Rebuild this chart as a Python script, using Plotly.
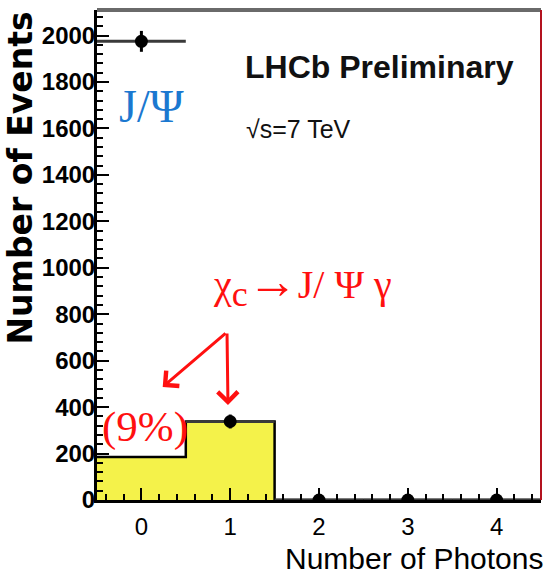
import plotly.graph_objects as go

# Photon multiplicity bins
n_photons = [0, 1, 2, 3, 4]

# Data: events per photon multiplicity (points with errors)
data_events = [1975, 338, 0, 0, 0]
data_err_y = [45, 30, 0, 0, 0]
bin_half_width = [0.5, 0.5, 0.5, 0.5, 0.5]

# chi_c -> J/psi gamma contribution (filled histogram)
chic_events = [185, 338, 0, 0, 0]

y_tick_vals = [0, 200, 400, 600, 800, 1000, 1200, 1400, 1600, 1800, 2000]
y_tick_text = [str(v) for v in y_tick_vals]
x_tick_vals = [0, 1, 2, 3, 4]
x_tick_text = [str(v) for v in x_tick_vals]

# histogram edges built from bin centres
edges = [c - 0.5 for c in n_photons] + [n_photons[-1] + 0.5]
step_y = chic_events + [chic_events[-1]]

fig = go.Figure()

fig.add_trace(go.Scatter(
    x=edges, y=step_y, mode="lines", line_shape="hv",
    line=dict(color="black", width=2.5),
    fill="tozeroy", fillcolor="#f4f24a",
    hoverinfo="skip", showlegend=False,
))

fig.add_trace(go.Scatter(
    x=n_photons, y=data_events, mode="markers",
    marker=dict(color="black", size=13),
    error_x=dict(type="data", array=bin_half_width, color="#3a3a3a",
                 thickness=3, width=0),
    error_y=dict(type="data", array=data_err_y, color="black",
                 thickness=3, width=0),
    showlegend=False,
))

tick_font_y = dict(family="Liberation Sans, Arial, sans-serif", size=24,
                   color="black", weight="bold")
tick_font_x = dict(family="Liberation Sans, Arial, sans-serif", size=24,
                   color="black")

fig.update_xaxes(
    range=[-0.5, 4.5], tickvals=x_tick_vals, ticktext=x_tick_text,
    ticks="inside", ticklen=12, tickwidth=2, tickcolor="black",
    minor=dict(dtick=0.2, tick0=0, ticks="inside", ticklen=6,
               tickwidth=2, tickcolor="black"),
    showline=True, linecolor="black", linewidth=3,
    showgrid=False, zeroline=False, tickfont=tick_font_x,
    ticklabelstandoff=3,
)
fig.update_yaxes(
    range=[0, 2110], tickvals=y_tick_vals, ticktext=y_tick_text,
    ticks="inside", ticklen=12, tickwidth=2, tickcolor="black",
    minor=dict(dtick=40, tick0=0, ticks="inside", ticklen=6,
               tickwidth=2, tickcolor="black"),
    showline=True, linecolor="black", linewidth=3,
    showgrid=False, zeroline=False, tickfont=tick_font_y,
    ticklabelstandoff=-6,
)

# frame: grey top edge, red right edge
fig.add_shape(type="line", xref="paper", yref="paper", x0=0, x1=1, y0=1, y1=1,
              line=dict(color="#6a6a6a", width=4))
fig.add_shape(type="line", xref="paper", yref="paper", x0=1, x1=1, y0=0, y1=1,
              line=dict(color="#b3121f", width=2))

sans = "Liberation Sans, Arial, sans-serif"
serif = "Liberation Serif, Times New Roman, serif"
red = "#ff1010"

annotations = [
    dict(text="Number of Events", xref="paper", yref="paper", x=0, y=1,
         xshift=-77, xanchor="center", yanchor="top", textangle=-90,
         showarrow=False,
         font=dict(family="DejaVu Sans, sans-serif", size=33, color="black",
                   weight="bold")),
    dict(text="Number of Photons", xref="paper", yref="paper", x=1, y=0,
         xshift=4, yshift=-58, xanchor="right", yanchor="middle",
         showarrow=False, font=dict(family=sans, size=30, color="black")),
    dict(text="LHCb Preliminary", xref="paper", yref="paper", x=0.328,
         y=0.884, xanchor="left", yanchor="middle", showarrow=False,
         font=dict(family=sans, size=32, color="#111111", weight="bold")),
    dict(text="√s=7 TeV", xref="paper", yref="paper", x=0.331, y=0.758,
         xanchor="left", yanchor="middle", showarrow=False,
         font=dict(family=sans, size=25, color="#111111")),
    dict(text="J/Ψ", xref="paper", yref="paper", x=0.122, y=0.804,
         xanchor="center", yanchor="middle", showarrow=False,
         font=dict(family=serif, size=46, color="#1b78d0")),
    dict(text=("χ<sub><span style='font-size:36px'>c</span></sub>"
               "<span style='font-size:50px'>→</span>J/ Ψ γ"),
         xref="paper", yref="paper",
         x=0.462, y=0.442, xanchor="center", yanchor="middle",
         showarrow=False, font=dict(family=serif, size=40, color=red)),
    dict(text="(9%)", xref="paper", yref="paper", x=0.108, y=0.149,
         xanchor="center", yanchor="middle", showarrow=False,
         font=dict(family=serif, size=43, color=red)),
    # arrows from the chi_c label to the two populated bins
    dict(text="", x=0.24, y=487, xref="x", yref="y", ax=0.964, ay=723,
         axref="x", ayref="y", showarrow=True, arrowhead=4, arrowsize=1.3,
         arrowwidth=3, arrowcolor=red),
    dict(text="", x=0.975, y=409, xref="x", yref="y", ax=0.964, ay=723,
         axref="x", ayref="y", showarrow=True, arrowhead=4, arrowsize=1.3,
         arrowwidth=3, arrowcolor=red),
]

fig.update_layout(
    width=544, height=579,
    margin=dict(l=97, r=3, t=10, b=79),
    plot_bgcolor="white", paper_bgcolor="white",
    annotations=annotations,
    showlegend=False,
)

fig.write_html("out.html")
